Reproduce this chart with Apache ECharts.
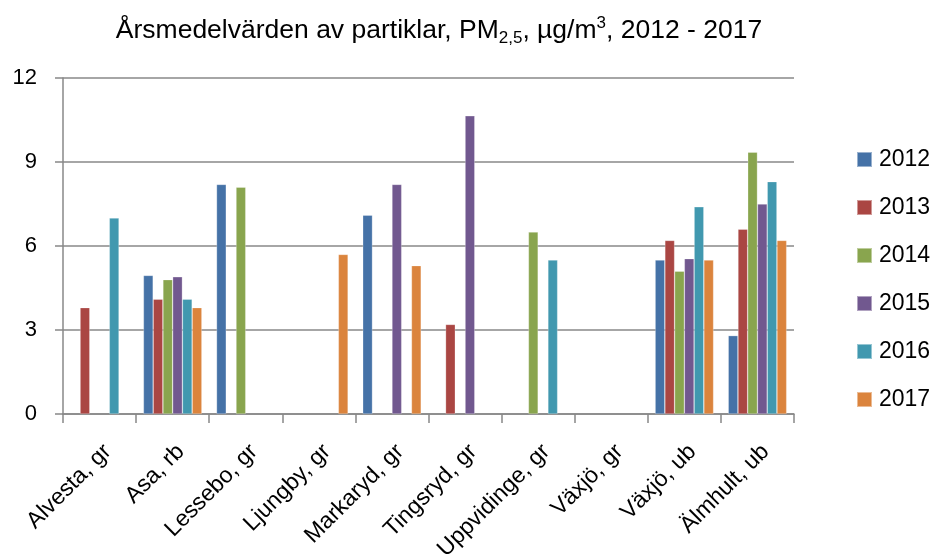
<!DOCTYPE html>
<html>
<head>
<meta charset="utf-8">
<script src="https://cdn.jsdelivr.net/npm/echarts@6/dist/echarts.min.js"></script>
<style>
  html, body { margin: 0; padding: 0; background: #fff; }
  #chart { width: 933px; height: 556px; }
</style>
</head>
<body>
<div id="chart"></div>
<script>
// mätplatser
const categories = ['Alvesta, gr', 'Asa, rb', 'Lessebo, gr', 'Ljungby, gr', 'Markaryd, gr',
  'Tingsryd, gr', 'Uppvidinge, gr', 'Växjö, gr', 'Växjö, ub', 'Älmhult, ub']
const years = ['2012', '2013', '2014', '2015', '2016', '2017']
// årsmedelvärden per år (null = saknas)
const v2012 = [null, 4.95, 8.2, null, 7.1, null, null, null, 5.5, 2.8]
const v2013 = [3.8, 4.1, null, null, null, 3.2, null, null, 6.2, 6.6]
const v2014 = [null, 4.8, 8.1, null, null, null, 6.5, null, 5.1, 9.35]
const v2015 = [null, 4.9, null, null, 8.2, 10.65, null, null, 5.55, 7.5]
const v2016 = [7.0, 4.1, null, null, null, null, 5.5, null, 7.4, 8.3]
const v2017 = [null, 3.8, null, 5.7, 5.3, null, null, null, 5.5, 6.2]
const yTicks = [0, 3, 6, 9, 12]
const colors = ['#4572A7', '#AA4643', '#89A54E', '#71588F', '#4198AF', '#DB843D']

const values = [v2012, v2013, v2014, v2015, v2016, v2017]
const font = 'Liberation Sans'

const chart = echarts.init(document.getElementById('chart'))
const option = {
  animation: false,
  color: colors,
  title: {
    text: 'Årsmedelvärden av partiklar, PM{sub|2,5}, µg/m{sup|3}, 2012 - 2017',
    left: 434,
    textAlign: 'center',
    top: 10,
    textStyle: {
      fontFamily: font,
      fontSize: 26.5,
      fontWeight: 'normal',
      color: '#000',
      lineHeight: 32,
      rich: {
        sub: { fontFamily: font, fontSize: 17, lineHeight: 19, verticalAlign: 'bottom', color: '#000' },
        sup: { fontFamily: font, fontSize: 17, lineHeight: 22, verticalAlign: 'top', color: '#000' }
      }
    }
  },
  legend: {
    orient: 'vertical',
    left: 851,
    top: 143,
    itemWidth: 15,
    itemHeight: 15,
    itemGap: 25,
    icon: 'rect',
    textStyle: { fontFamily: font, fontSize: 23, color: '#000', padding: [0, 0, 0, 2] },
    data: years
  },
  grid: {
    left: 63,
    right: 139,
    top: 78,
    bottom: 142,
    containLabel: false,
    outerBoundsMode: 'none'
  },
  xAxis: {
    type: 'category',
    data: categories,
    axisLine: { lineStyle: { color: '#888', width: 1.5 } },
    axisTick: { show: true, length: 9, lineStyle: { color: '#888', width: 1.5 } },
    axisLabel: {
      rotate: 45,
      interval: 0,
      margin: 26,
      align: 'right',
      verticalAlign: 'top',
      fontFamily: font,
      fontSize: 23,
      color: '#000'
    }
  },
  yAxis: {
    type: 'value',
    min: yTicks[0],
    max: yTicks[yTicks.length - 1],
    interval: 3,
    axisLine: { show: true, lineStyle: { color: '#888', width: 1.5 } },
    axisTick: { show: true, length: 8, lineStyle: { color: '#888', width: 1.5 } },
    axisLabel: { margin: 26, fontFamily: font, fontSize: 22, color: '#000' },
    splitLine: { lineStyle: { color: '#888', width: 1.5 } }
  },
  series: years.map((y, i) => ({
    name: y,
    type: 'bar',
    data: values[i],
    barGap: '0%',
    barCategoryGap: '20%',
    itemStyle: { color: colors[i], borderColor: 'rgba(255,255,255,0.45)', borderWidth: 0.6 }
  }))
}
chart.setOption(option)
</script>
</body>
</html>
